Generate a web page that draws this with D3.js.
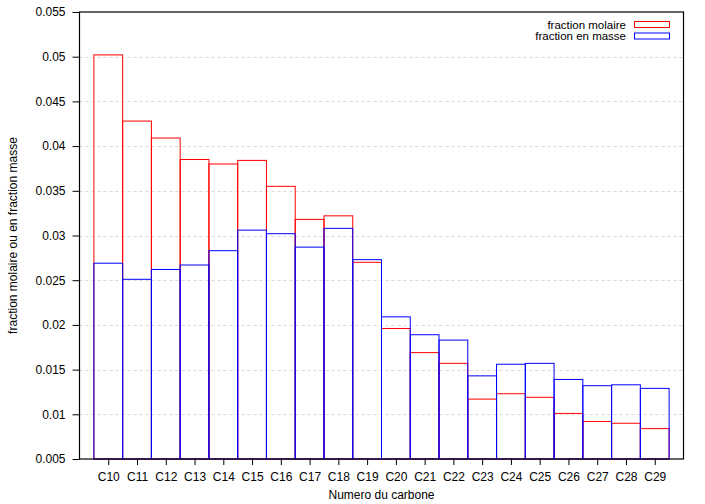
<!DOCTYPE html>
<html>
<head>
<meta charset="utf-8">
<script src="https://cdn.jsdelivr.net/npm/d3@7"></script>
<style>
body { margin: 0; background: #fff; }
text { font-family: "Liberation Sans", Arial, sans-serif; fill: #000; }
</style>
</head>
<body>
<script>
var categories = ['C10', 'C11', 'C12', 'C13', 'C14', 'C15', 'C16', 'C17', 'C18', 'C19',
	'C20', 'C21', 'C22', 'C23', 'C24', 'C25', 'C26', 'C27', 'C28', 'C29'];
var fractionMolaire = [0.0502, 0.0428, 0.0409, 0.0385, 0.0380, 0.0384, 0.0355, 0.0318, 0.0322, 0.0270,
	0.0196, 0.0169, 0.0157, 0.0117, 0.0123, 0.0119, 0.0101, 0.0092, 0.0090, 0.0084];
var fractionMasse = [0.0269, 0.0251, 0.0262, 0.0267, 0.0283, 0.0306, 0.0302, 0.0287, 0.0308, 0.0273,
	0.0209, 0.0189, 0.0183, 0.0143, 0.0156, 0.0157, 0.0139, 0.0132, 0.0133, 0.0129];
var yTicks = [0.005, 0.01, 0.015, 0.02, 0.025, 0.03, 0.035, 0.04, 0.045, 0.05, 0.055];
var yTickLabels = ['0.005', '0.01', '0.015', '0.02', '0.025', '0.03', '0.035', '0.04', '0.045', '0.05', '0.055'];

var width = 705, height = 504;
var plotLeft = 79.5, plotRight = 683.5, plotTop = 12, plotBottom = 459;

var svg = d3.select('body').append('svg')
	.attr('width', width)
	.attr('height', height);

var x = d3.scaleLinear().domain([-1, categories.length]).range([plotLeft, plotRight]);
var y = d3.scaleLinear().domain([0.005, 0.055]).range([plotBottom, plotTop]);

// grid
svg.append('g')
	.selectAll('line')
	.data(yTicks.slice(1, -1))
	.enter()
	.append('line')
	.attr('x1', plotLeft).attr('x2', plotRight)
	.attr('y1', function(d) { return Math.round(y(d)) + 0.5; })
	.attr('y2', function(d) { return Math.round(y(d)) + 0.5; })
	.attr('stroke', '#d9d9d9')
	.attr('stroke-dasharray', '3,3')
	.attr('stroke-width', 1);

function drawBars(values, color) {
	svg.append('g')
		.selectAll('rect')
		.data(values)
		.enter()
		.append('rect')
		.attr('x', function(d, i) { return x(i - 0.5); })
		.attr('width', x(1) - x(0))
		.attr('y', function(d) { return y(d); })
		.attr('height', function(d) { return plotBottom - y(d); })
		.attr('fill', 'none')
		.attr('stroke', color)
		.attr('stroke-width', 1);
}
drawBars(fractionMolaire, '#ff0000');
drawBars(fractionMasse, '#0000ff');

// y axis
var yAxis = d3.axisLeft(y)
	.tickValues(yTicks)
	.tickFormat(function(d, i) { return yTickLabels[i]; })
	.tickSize(7)
	.tickPadding(7);
var gy = svg.append('g').attr('transform', 'translate(' + plotLeft + ',0)').call(yAxis);
gy.select('.domain').remove();
gy.selectAll('text').attr('font-size', 12).style('font-family', '"Liberation Sans", Arial, sans-serif');

// x axis
var xAxis = d3.axisBottom(x)
	.tickValues(d3.range(categories.length))
	.tickFormat(function(d) { return categories[d]; })
	.tickSize(6)
	.tickPadding(7);
var gx = svg.append('g').attr('transform', 'translate(0,' + plotBottom + ')').call(xAxis);
gx.select('.domain').remove();
gx.selectAll('text').attr('font-size', 12).style('font-family', '"Liberation Sans", Arial, sans-serif');

// frame
svg.append('rect')
	.attr('x', plotLeft).attr('y', plotTop)
	.attr('width', plotRight - plotLeft).attr('height', plotBottom - plotTop)
	.attr('fill', 'none')
	.attr('stroke', '#000')
	.attr('stroke-width', 1.2);

// axis titles
svg.append('text')
	.attr('x', (plotLeft + plotRight) / 2)
	.attr('y', 499)
	.attr('text-anchor', 'middle')
	.attr('font-size', 12)
	.text('Numero du carbone');

svg.append('text')
	.attr('transform', 'translate(17,' + ((plotTop + plotBottom) / 2) + ') rotate(-90)')
	.attr('text-anchor', 'middle')
	.attr('font-size', 12)
	.text('fraction molaire ou en fraction masse');

// legend
var legend = [['fraction molaire', '#ff0000'], ['fraction en masse', '#0000ff']];
legend.forEach(function(l, i) {
	var ly = 24.5 + i * 11.5;
	svg.append('text')
		.attr('x', 626)
		.attr('y', ly + 4)
		.attr('text-anchor', 'end')
		.attr('font-size', 11.5)
		.text(l[0]);
	svg.append('rect')
		.attr('x', 634.5).attr('y', ly - 3)
		.attr('width', 35).attr('height', 6)
		.attr('fill', 'none')
		.attr('stroke', l[1])
		.attr('stroke-width', 1);
});
</script>
</body>
</html>
